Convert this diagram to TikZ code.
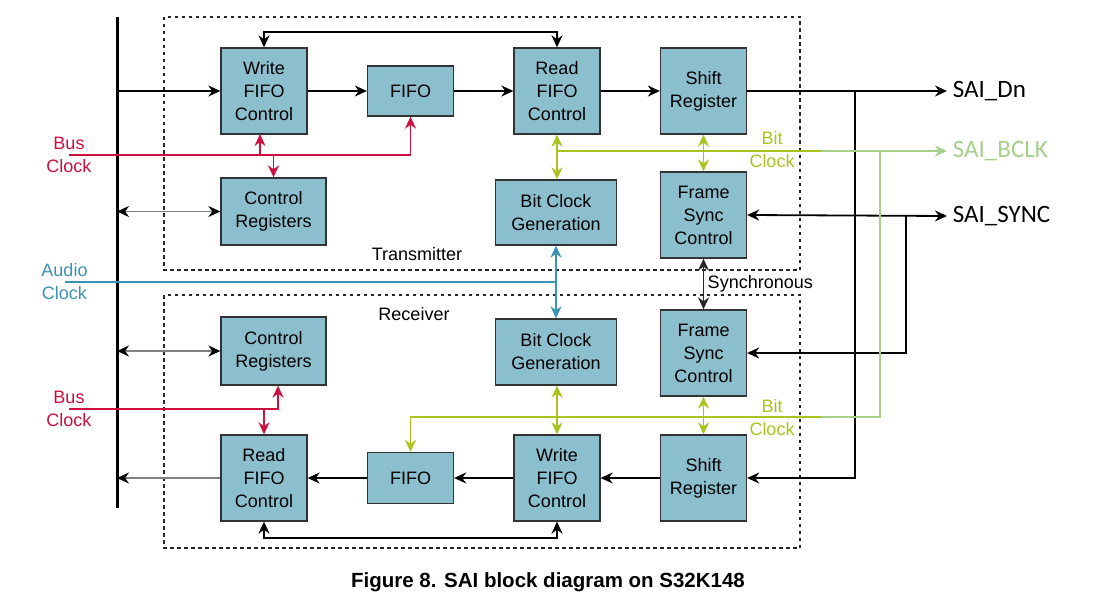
\documentclass[tikz,border=0pt]{standalone}
\usepackage{fontspec}
\setmainfont{Liberation Sans}
\newfontfamily\pinfont{Carlito}
\usetikzlibrary{arrows.meta}
\definecolor{boxblue}{HTML}{8CBFCE}
\definecolor{busred}{HTML}{CC1040}
\definecolor{bitgreen}{HTML}{A8C41E}
\definecolor{pingreen}{HTML}{A6CF8C}
\definecolor{audioblue}{HTML}{3C93B0}

\begin{document}
\begin{tikzpicture}[x=1pt,y=-1pt,>={Stealth[length=12pt,width=11pt]},line width=1.8pt,node distance=146.5pt,
    main node/.style={draw=black!80,line width=1.3pt,fill=boxblue,align=center,inner sep=0pt,minimum width=86pt,minimum height=86pt,font=\fontsize{18}{23}\selectfont},
    side text/.style={align=center,inner sep=3pt,font=\fontsize{18}{23}\selectfont},
    pin text/.style={anchor=west,inner sep=5pt,font=\pinfont\fontsize{25}{27}\selectfont},
    part box/.style={draw=black!85,line width=1.3pt,dash pattern=on 3.5pt off 3.5pt},
    bus arrow/.style={draw=black!50,>={Stealth[length=12pt,width=11pt,black]}}]

    \useasboundingbox (0,0) rectangle (1102,599);

    % transmitter and receiver frames
    \draw[part box] (164,17) rectangle (800,270);
    \draw[part box] (164,295) rectangle (800,548);
    \node[side text] (tx) at (417,254) {Transmitter};
    \node[side text] (rx) at (414,314) {Receiver};

    % transmitter
    \node[main node] (wt) at (264,91) {Write\\FIFO\\Control};
    \node[main node, minimum height=50pt] (ft) [right of = wt]{FIFO};
    \node[main node] (rt) [right of = ft]{Read\\FIFO\\Control};
    \node[main node] (st) [right of = rt]{Shift\\Register};
    \node[main node, minimum width=105pt, minimum height=67pt] (ct) at (273.5,211.5) {Control\\Registers};
    \node[main node, minimum width=121pt, minimum height=65pt] (bt) at (556,212.5) {Bit Clock\\Generation};
    \node[main node] (yt) at (703.5,215) {Frame\\Sync\\Control};

    % receiver
    \node[main node, minimum width=105pt, minimum height=68pt] (cr) at (273.5,351) {Control\\Registers};
    \node[main node, minimum width=121pt, minimum height=66pt] (br) at (556,352) {Bit Clock\\Generation};
    \node[main node] (yr) at (703.5,353) {Frame\\Sync\\Control};
    \node[main node] (rr) at (264,478) {Read\\FIFO\\Control};
    \node[main node, minimum height=51pt] (fr) [right of = rr]{FIFO};
    \node[main node] (wr) [right of = fr]{Write\\FIFO\\Control};
    \node[main node] (sr) [right of = wr]{Shift\\Register};

    % outside labels
    \node[side text, text=busred] (busct) at (69,155) {Bus\\Clock};
    \node[side text, text=busred] (buscr) at (69,409) {Bus\\Clock};
    \node[side text, text=audioblue] (audio) at (64.5,282) {Audio\\Clock};
    \node[side text, text=bitgreen] (bitlt) at (772,150) {Bit\\Clock};
    \node[side text, text=bitgreen] (bitlr) at (772,418) {Bit\\Clock};
    \node[pin text] (dn) at (947,91) {SAI\_Dn};
    \node[pin text, text=pingreen] (bclk) at (947,151) {SAI\_BCLK};
    \node[pin text] (sync) at (947,216) {SAI\_SYNC};
    \node[font=\bfseries\fontsize{20.5}{24}\selectfont] (cap) at (548,582) {Figure 8. SAI block diagram on S32K148};

    \coordinate (bustop) at (117,17);
    \coordinate (busbot) at (117,508);
    \coordinate (wtin) at (260,134);
    \coordinate (crin) at ([xshift=4.5pt]cr.south);
    \coordinate (dnx) at (855,91);
    \coordinate (syncx) at (906,216);
    \coordinate (bitt) at (557,151);
    \coordinate (bitmid) at (821,151);
    \coordinate (bitout) at (880,151);
    \coordinate (bitin) at (821,417);

    % peripheral bus
    \draw[line width=3pt] (bustop) -- (busbot);
    \path[->] (bustop |- wt) edge (wt);
    \path[bus arrow]
        (bustop |- ct) edge[<->] (ct)
        (bustop |- cr) edge[<->] (cr)
        (rr) edge[->] (bustop |- rr)
    ;

    % data path
    \path[->]
        (wt) edge (ft)
        (ft) edge (rt)
        (rt) edge (st)
        (sr) edge (wr)
        (wr) edge (fr)
        (fr) edge (rr)
    ;
    \draw[<->] (wt.north) -- ++(0,-15) -| (rt.north);
    \draw[<->] (wr.south) -- ++(0,16) -| (rr.south);
    \draw[->] (st.east) -- (dn.west);
    \draw[->] (dnx) |- (sr.east);
    \draw[<->] (yt.east) -- (sync.west);
    \draw[->] (syncx) |- (yr.east);
    \draw[<->, black!85] (yt) -- (yr) node[midway, right, font=\fontsize{18}{23}\selectfont, text=black] {Synchronous};

    % bus clock
    \draw[busred,->] (busct.center) -| (ft.south);
    \draw[busred,->] (wtin |- busct) -- (wtin);
    \draw[busred,->] (ct.north |- busct) -- (ct.north);
    \draw[busred,->] (buscr.center) -| (crin);
    \draw[busred,->] (rr.north |- buscr) -- (rr.north);

    % audio clock
    \draw[audioblue] (audio.center) -- (bt.south |- audio.center);
    \draw[audioblue,<->] (bt.south) -- (br.north);

    % bit clock
    \draw[bitgreen,<->] (rt.south) -- (rt.south |- bt.north);
    \draw[bitgreen,<->] (st) -- (yt);
    \draw[bitgreen] (bitt) -- (bitmid);
    \draw[pingreen,->] (bitmid) -- (bclk.west);
    \draw[pingreen] (bitout) |- (bitin);
    \draw[bitgreen,->] (bitin) -| (fr.north);
    \draw[bitgreen,<->] (wr.north |- br.south) -- (wr.north);
    \draw[bitgreen,<->] (yr) -- (sr);
\end{tikzpicture}
\end{document}
